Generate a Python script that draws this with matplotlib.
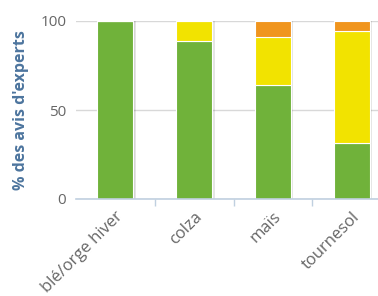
import numpy as np
import matplotlib
matplotlib.use('Agg')
from matplotlib import pyplot as plt
from matplotlib import transforms

plt.rcParams['font.family'] = ['Open Sans', 'DejaVu Sans']

cultures = ['blé/orge hiver', 'colza', 'maïs', 'tournesol']
favorable = [100, 88.5, 64, 31.5]
moyen = [0, 11.5, 27, 63]
defavorable = [0, 0, 9, 5.5]

green = '#70b23a'
yellow = '#f2e300'
orange = '#f0951e'

fig = plt.figure(figsize=(3.78, 2.96), dpi=100)
ax = fig.add_axes([76/378, 1 - 199/296, 315/378, 178/296])

x = np.arange(len(cultures))
w = 0.46
bottom = np.zeros(len(cultures))
# light shadow behind the stacks
tot = np.array(favorable) + np.array(moyen) + np.array(defavorable)
ax.bar(x + 0.03, tot, w, color='#000000', alpha=0.10, zorder=2, linewidth=0)
ax.bar(x + 0.015, tot, w, color='#000000', alpha=0.08, zorder=2, linewidth=0)
for vals, col in [(favorable, green), (moyen, yellow), (defavorable, orange)]:
    ax.bar(x, vals, w, bottom=bottom, color=col, edgecolor='white',
           linewidth=0.8, zorder=3)
    bottom += np.array(vals)

ax.set_xlim(-0.5, 3.5)
ax.set_ylim(0, 100)
ax.set_yticks([0, 50, 100])
ax.yaxis.grid(True, color='#d8d8d8', linewidth=1, zorder=0)
ax.tick_params(axis='y', length=0, pad=7, labelsize=11, labelcolor='#666666')

ax.set_xticks(x)
ax.set_xticklabels(cultures, rotation=45, ha='right', va='top',
                   rotation_mode='anchor', fontsize=12, color='#666666')
shift = transforms.ScaledTranslation(-7/100, -2/100, fig.dpi_scale_trans)
for lab in ax.get_xticklabels():
    lab.set_transform(lab.get_transform() + shift)
ax.set_xticks(np.arange(0.5, 3.5, 1), minor=True)
ax.tick_params(axis='x', which='major', length=0, pad=7)
ax.tick_params(axis='x', which='minor', length=5, color='#c0d0e0', width=1)

for sp in ['top', 'right', 'left']:
    ax.spines[sp].set_visible(False)
ax.spines['bottom'].set_color('#c0d0e0')
ax.spines['bottom'].set_linewidth(1.2)
ax.spines['bottom'].set_zorder(4)

ax.set_ylabel("% des avis d'experts", fontsize=11.5, fontweight='bold',
              color='#4d759e', labelpad=8)

plt.savefig('out.png', dpi=100)
